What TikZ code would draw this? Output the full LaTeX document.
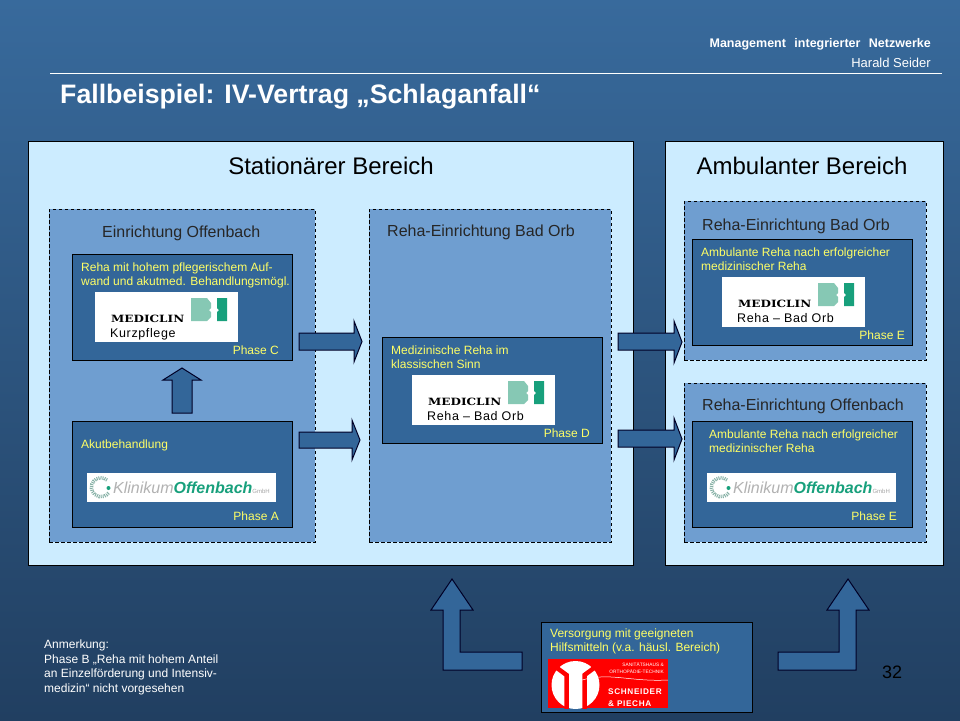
\documentclass[tikz,border=0pt]{standalone}
\usepackage{fontspec}
\setmainfont{Liberation Sans}
\newfontfamily\logoserif{DejaVu Serif}
\definecolor{bgtop}{RGB}{56,106,156}
\definecolor{bgmid}{RGB}{47,92,138}
\definecolor{bgbottom}{RGB}{33,63,97}
\definecolor{panelblue}{RGB}{204,236,255}
\definecolor{midblue}{RGB}{111,158,208}
\definecolor{darkblue}{RGB}{51,102,153}
\definecolor{signyellow}{RGB}{255,255,102}
\definecolor{tealdark}{RGB}{24,160,124}
\definecolor{teallight}{RGB}{134,200,180}
\tikzset{%
  % Specifications for style of nodes:
        panel/.style = {rectangle, draw=black, fill=panelblue, line width=1pt,
                        inner sep=0pt, outer sep=0pt},
      dashbox/.style = {rectangle, draw=black, fill=midblue, line width=0.8pt,
                        dash pattern=on 3.5pt off 2.5pt, inner sep=0pt, outer sep=0pt},
      darkbox/.style = {rectangle, draw=black, fill=darkblue, line width=1pt,
                        minimum width=220pt, minimum height=106pt, inner sep=0pt, outer sep=0pt},
      heading/.style = {inner sep=0pt, font=\fontsize{24}{28}\selectfont},
     sublabel/.style = {inner sep=0pt, anchor=west, text=black!85,
                        font=\fontsize{16}{18}\selectfont},
       yellow/.style = {inner sep=0pt, anchor=north west, align=left, text=signyellow,
                        font=\fontsize{12}{14}\selectfont},
        phase/.style = {inner sep=0pt, anchor=east, text=signyellow,
                        font=\fontsize{12}{14}\selectfont},
   blockarrow/.style = {draw=black!85!blue, fill=darkblue, line width=1pt, line join=miter},
}
% logo with its caption
\newcommand{\mediclinlogo}[4]{%
  \node (#1) [fill=white, inner sep=0pt, anchor=north west, minimum width=143pt, minimum height=50pt] at (#2,#3) {};
  \begin{scope}[shift={(#2,#3)}]
    \node (#1name) [inner sep=0pt, anchor=base west] at (16,30)
      {\scalebox{1.2}[1]{\logoserif\bfseries\fontsize{10}{10}\selectfont MEDICLIN}};
    \fill[teallight] (96,6) -- (112,6) -- (116,11) -- (116,16) -- (114,18) -- (116,20) -- (116,25) -- (112,29) -- (96,29) -- cycle;
    \fill[tealdark] (122,6) -- (132,6) -- (132,29) -- (122,29) -- (122,20) -- (124,18) -- (122,16) -- cycle;
    \node (#1text) [inner sep=0pt, anchor=base west] at (15,45)
      {\fontsize{12.5}{13}\selectfont\addfontfeatures{LetterSpace=5}#4};
  \end{scope}
}
\newcommand{\klinikumlogo}[3]{%
  \node (#1) [fill=white, inner sep=0pt, anchor=north west, minimum width=189pt, minimum height=29pt] at (#2,#3) {};
  \begin{scope}[shift={(#2,#3)}]
    \draw[tealdark!45!gray!70, line width=3.5pt, dash pattern=on 1pt off 1pt] (20,7) arc[start angle=50, end angle=325, radius=9.5pt];
    \fill[tealdark] (21.5,15) circle (2pt);
    \node (#1name) [inner sep=0pt, anchor=base west] at (26,20)
      {\fontsize{16}{16}\selectfont\itshape\textcolor{black!30}{Klinikum}\textcolor{tealdark}{\bfseries Offenbach}\textcolor{black!35}{\fontsize{6}{6}\selectfont\upshape GmbH}};
  \end{scope}
}
\begin{document}
\begin{tikzpicture}[x=1pt,y=-1pt]
  \useasboundingbox (0,0) rectangle (960,720);
  \shade[top color=bgtop, middle color=bgmid, bottom color=bgbottom] (0,0) rectangle (960,720);

  % Header
  \node (header) [inner sep=0pt, anchor=east, text=white, font=\bfseries\fontsize{12.5}{14}\selectfont] at (931,44) {Management\hspace{5pt} integrierter\hspace{5pt} Netzwerke};
  \node (author) [inner sep=0pt, anchor=east, text=white, font=\fontsize{13}{15}\selectfont] at (931,63) {Harald Seider};
  \coordinate (ruleleft) at (50,73);
  \coordinate (ruleright) at (942,73);
  \draw[white, line width=0.8pt] (ruleleft) -- (ruleright);
  \node (title) [inner sep=0pt, anchor=west, text=white, font=\bfseries\fontsize{26.7}{30}\selectfont] at (60,97) {Fallbeispiel: IV-Vertrag „Schlaganfall“};

  % Panels
  \node (stationaer) [panel, minimum width=605pt, minimum height=424pt] at (330.5,353) {};
  \node (ambulant)   [panel, minimum width=278pt, minimum height=424pt] at (804,353) {};
  \node (stattitle)  [heading] at (331,166) {Stationärer Bereich};
  \node (ambtitle)   [heading] at (802,166) {Ambulanter Bereich};

  % Dashed areas
  \node (offenbach) [dashbox, minimum width=266pt, minimum height=333pt] at (182,375.5) {};
  \node (badorb)    [dashbox, minimum width=242pt, minimum height=333pt] at (490,375.5) {};
  \node (ambanf)    [dashbox, minimum width=242pt, minimum height=159pt] at (805,280.5) {};
  \node (ambofb)    [dashbox, minimum width=242pt, minimum height=159pt] at (805,462.5) {};
  \node (offtitle)  [sublabel] at (102,233) {Einrichtung Offenbach};
  \node (orbtitle)  [sublabel] at (387,232) {Reha-Einrichtung Bad Orb};
  \node (anftitle)  [sublabel] at (702,226) {Reha-Einrichtung Bad Orb};
  \node (ofbtitle)  [sublabel] at (702,406) {Reha-Einrichtung Offenbach};

  % Phase boxes
  \node (phasec) [darkbox] at (182,307) {};
  \node (phasea) [darkbox] at (182,474) {};
  \node (phased) [darkbox] at (492,390) {};
  \node (phasee) [darkbox] at (802,292) {};
  \node (phasef) [darkbox] at (802,474) {};
  \node (supply) [darkbox, minimum width=211pt, minimum height=90pt] at (646.5,667) {};

  \node (textc) [yellow] at (81,262.5) {Reha mit hohem pflegerischem Auf-\\wand und akutmed. Behandlungsmögl.};
  \node (texta) [yellow] at (81,440) {Akutbehandlung};
  \node (textd) [yellow] at (391,345.5) {Medizinische Reha im\\klassischen Sinn};
  \node (texte) [yellow] at (701,248) {Ambulante Reha nach erfolgreicher\\medizinischer Reha};
  \node (textf) [yellow] at (709,429.5) {Ambulante Reha nach erfolgreicher\\medizinischer Reha};
  \node (texts) [yellow] at (550,629) {Versorgung mit geeigneten\\Hilfsmitteln (v.a. häusl. Bereich)};

  \node (labelc) [phase] at (279,350) {Phase C};
  \node (labela) [phase] at (279,516) {Phase A};
  \node (labeld) [phase] at (590,433) {Phase D};
  \node (labele) [phase] at (905,335) {Phase E};
  \node (labelf) [phase] at (897,516) {Phase E};

  % Logos
  \mediclinlogo{logoc}{95}{292}{Kurzpflege}
  \mediclinlogo{logod}{412}{375}{Reha – Bad Orb}
  \mediclinlogo{logoe}{722}{277}{Reha – Bad Orb}
  \klinikumlogo{logoa}{87}{473}
  \klinikumlogo{logof}{707}{473}

  \node (logos) [fill=red, inner sep=0pt, anchor=north west, minimum width=120pt, minimum height=49pt] at (548,659) {};
  \begin{scope}
    \clip (548,659) rectangle (668,708);
    \fill[white] (575.5,685) circle (24pt);
    \draw[red, line width=4.5pt, line join=miter] (557,668) -- (566.5,675) -- (566.5,709);
    \draw[red, line width=4.5pt, line join=miter] (594,668) -- (584.5,675) -- (584.5,709);
    \draw[white, line width=0.5pt] (582,680) .. controls (610,672) and (630,682) .. (668,680);
  \end{scope}
  \node (logostop) [inner sep=0pt, anchor=east, align=right, text=white, font=\fontsize{4.8}{7}\selectfont] at (664,668) {SANITÄTSHAUS \&\\ORTHOPÄDIE-TECHNIK};
  \node (logosname) [inner sep=0pt, anchor=north west, align=left, text=white, font=\bfseries\fontsize{8.2}{12}\selectfont\addfontfeatures{LetterSpace=8}] at (608,688.5) {SCHNEIDER\\\& PIECHA};

  % Arrows
  \draw[blockarrow] (299,333) -- (354,333) -- (354,321) -- (362,341.5) -- (354,362) -- (354,350) -- (299,350) -- cycle;
  \draw[blockarrow] (299,432) -- (352,432) -- (352,420) -- (360,440) -- (352,460) -- (352,448) -- (299,448) -- cycle;
  \draw[blockarrow] (618,333) -- (674,333) -- (674,321) -- (682,342) -- (674,363) -- (674,350) -- (618,350) -- cycle;
  \draw[blockarrow] (618,430) -- (674,430) -- (674,418) -- (682,439) -- (674,460) -- (674,447) -- (618,447) -- cycle;
  \draw[blockarrow] (172,413) -- (172,380) -- (163,380) -- (182,368) -- (201,380) -- (192,380) -- (192,413) -- cycle;
  \draw[blockarrow] (522,652) -- (460,652) -- (460,610) -- (473,610) -- (452,579) -- (431,610) -- (443,610) -- (443,670) -- (522,670) -- cycle;
  \draw[blockarrow] (778,652) -- (839,652) -- (839,610) -- (827,610) -- (848,579) -- (869,610) -- (856,610) -- (856,670) -- (778,670) -- cycle;

  % Footer
  \node (note) [inner sep=0pt, anchor=north west, align=left, text=white, font=\fontsize{12}{14.4}\selectfont] at (44,640) {Anmerkung:\\Phase B „Reha mit hohem Anteil\\an Einzelförderung und Intensiv-\\medizin“ nicht vorgesehen};
  \node (pagenum) [inner sep=0pt, text=black, font=\fontsize{18}{20}\selectfont] at (892,672) {32};
\end{tikzpicture}
\end{document}
